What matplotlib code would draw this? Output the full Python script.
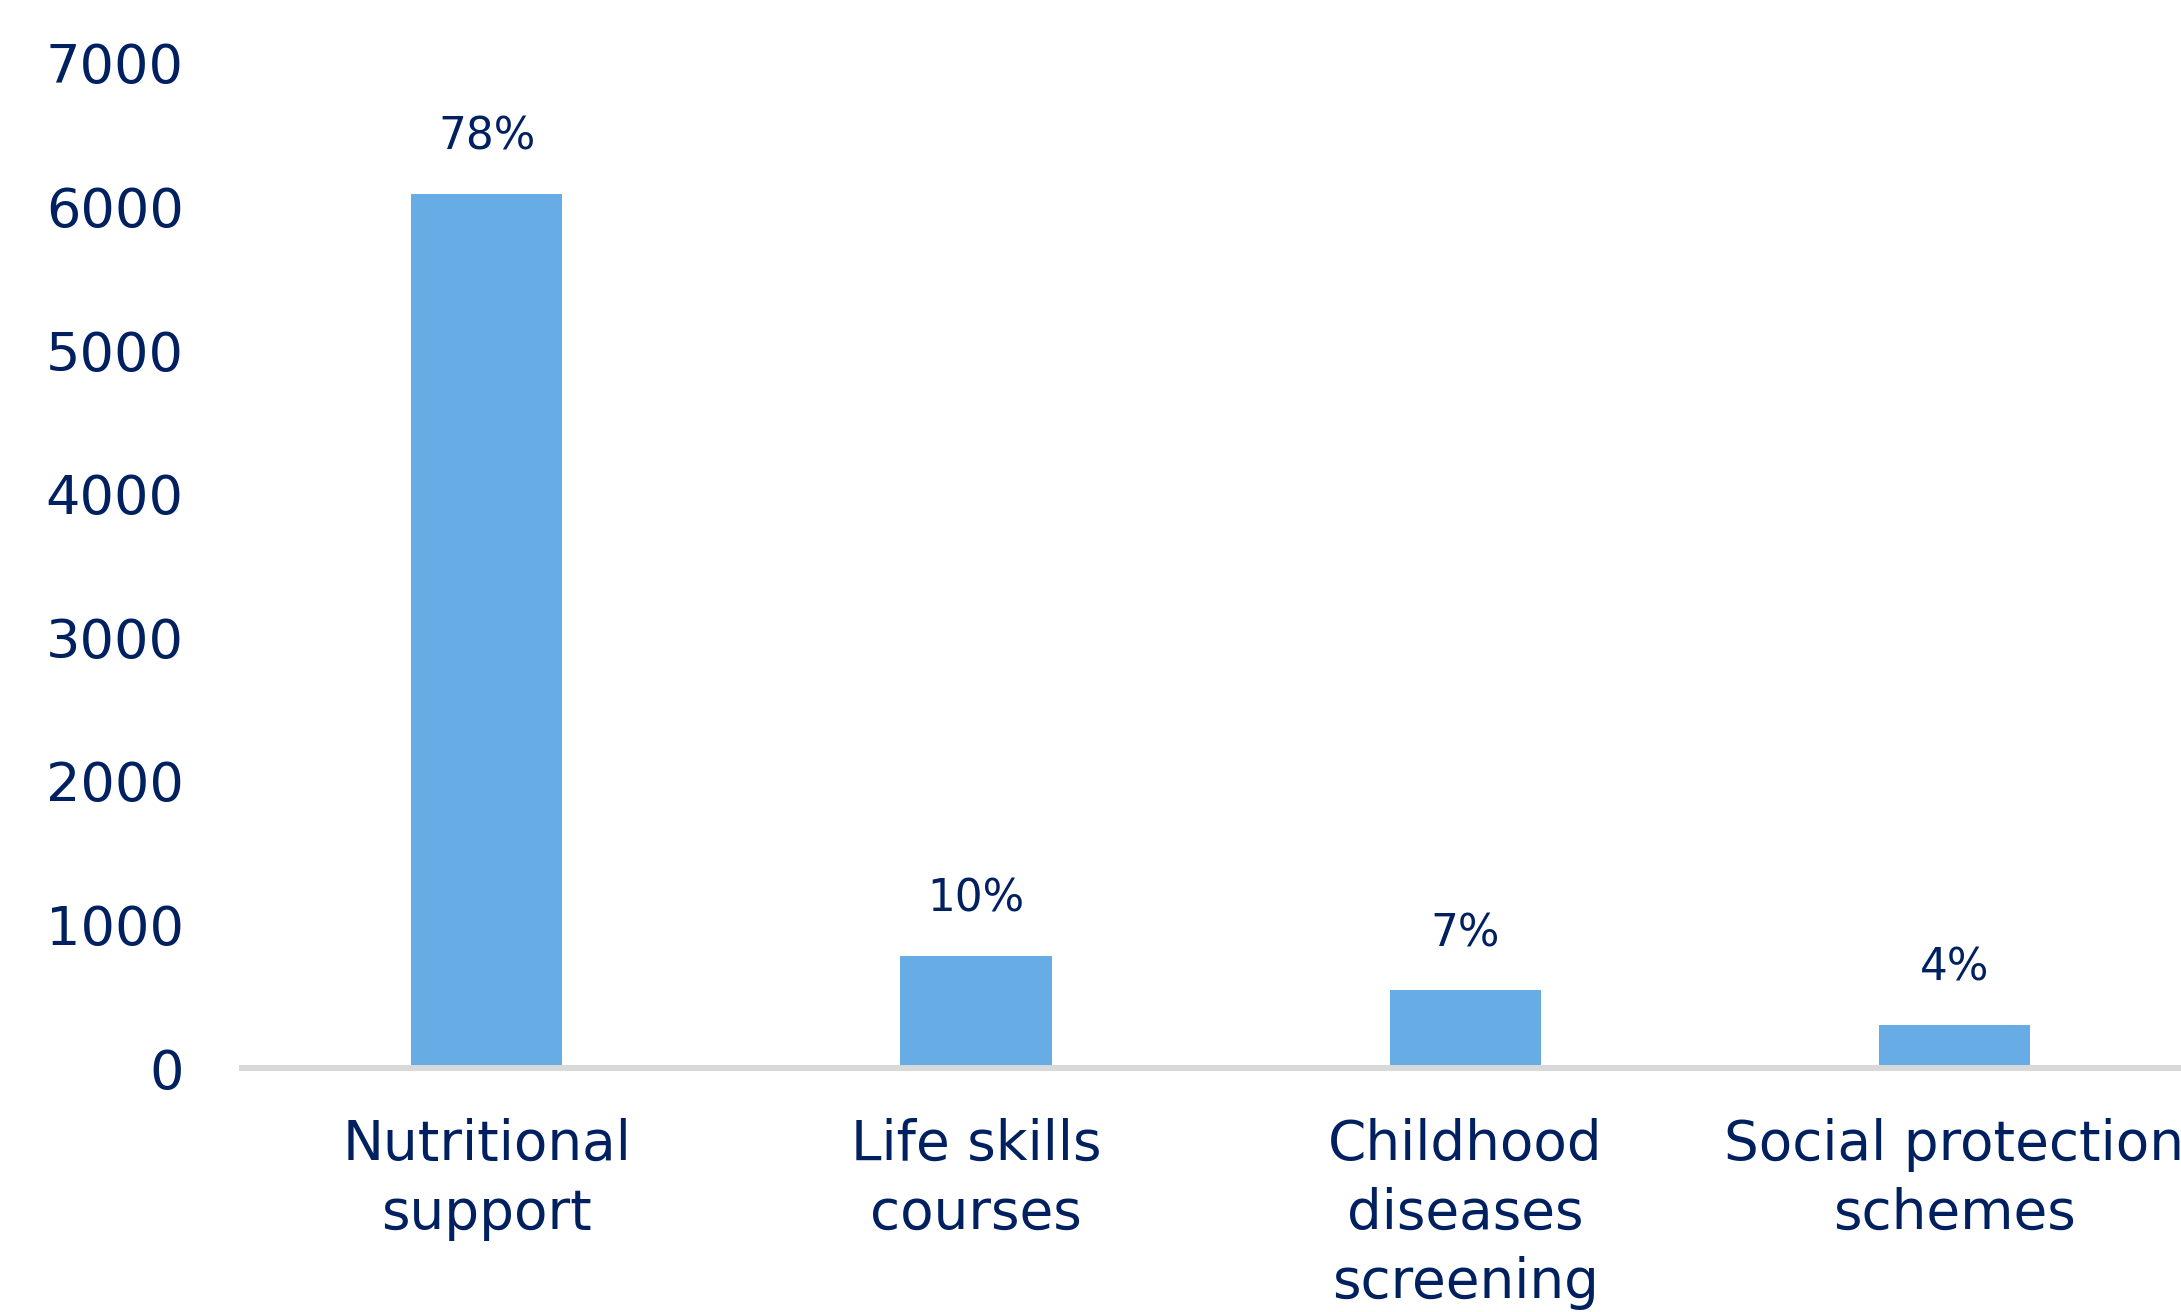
import numpy as np
import matplotlib as mpl
import matplotlib.pyplot as plt

mpl.rc('font', family='DejaVu Sans')
mpl.rc('figure', facecolor='w')

# values
categories = ["Nutritional\nsupport", "Life skills\ncourses",
              "Childhood\ndiseases\nscreening", "Social protection\nschemes"]
counts = [6090, 780, 543, 300]
shares = ["78%", "10%", "7%", "4%"]
yticks = [0, 1000, 2000, 3000, 4000, 5000, 6000, 7000]

navy = '#002060'
bar_color = '#68ACE5'

fig = plt.figure(figsize=(21.81, 13.12), dpi=100)
ax = fig.add_axes([242 / 2181, (1312 - 1068) / 1312, 1 - 242 / 2181, (1068 - 63) / 1312])

x = np.arange(len(categories))
ax.bar(x, counts, width=0.309, color=bar_color, zorder=2)

for xi, c, s in zip(x, counts, shares):
    ax.annotate(s, (xi, c), xytext=(0, 31.7), textcoords='offset points',
                ha='center', va='baseline', fontsize=31.5, color=navy)

ax.set_xlim(-0.5, 3.463)
ax.set_ylim(0, 7000)
ax.set_yticks(yticks)
ax.set_xticks(x)
ax.set_xticklabels(categories, linespacing=1.36)

ax.tick_params(axis='y', length=0, pad=42, labelsize=39, labelcolor=navy)
ax.tick_params(axis='x', length=0, pad=36, labelsize=39.5, labelcolor=navy)

for side in ['left', 'right', 'top']:
    ax.spines[side].set_visible(False)
ax.spines['bottom'].set_color('#D9D9D9')
ax.spines['bottom'].set_linewidth(4.3)
ax.spines['bottom'].set_zorder(3)

plt.savefig('out.png', dpi=100)
